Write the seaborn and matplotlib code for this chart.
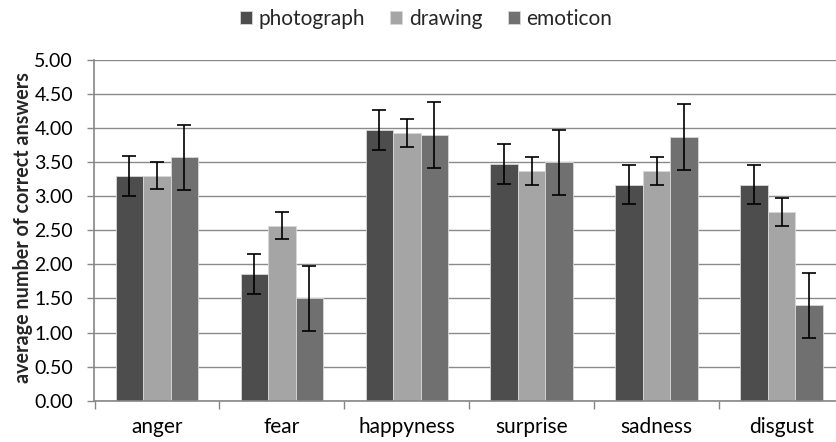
import matplotlib
matplotlib.use("Agg")
import matplotlib.pyplot as plt
import seaborn as sns
import pandas as pd
import numpy as np
from matplotlib.ticker import FixedLocator, FormatStrFormatter

categories = ["anger", "fear", "happyness", "surprise", "sadness", "disgust"]
series = ["photograph", "drawing", "emoticon"]
photograph = [3.30, 1.86, 3.97, 3.47, 3.17, 3.17]
drawing = [3.30, 2.57, 3.93, 3.37, 3.37, 2.77]
emoticon = [3.57, 1.50, 3.90, 3.50, 3.87, 1.40]
err_photograph = [0.29, 0.29, 0.29, 0.29, 0.29, 0.29]
err_drawing = [0.20, 0.20, 0.20, 0.20, 0.20, 0.20]
err_emoticon = [0.48, 0.48, 0.48, 0.48, 0.48, 0.48]
colors = ["#4d4d4d", "#a5a5a5", "#707070"]
yticks = [0.0, 0.5, 1.0, 1.5, 2.0, 2.5, 3.0, 3.5, 4.0, 4.5, 5.0]

values = {"photograph": photograph, "drawing": drawing, "emoticon": emoticon}
errors = {"photograph": err_photograph, "drawing": err_drawing, "emoticon": err_emoticon}
rows = []
for s in series:
    for c, v in zip(categories, values[s]):
        rows.append({"category": c, "series": s, "value": v})
df = pd.DataFrame(rows)

sns.set_style("white")
plt.rcParams["font.family"] = ["Lato", "DejaVu Sans"]

fig = plt.figure(figsize=(8.37, 4.42), dpi=100)
ax = fig.add_axes([94.5 / 837, 1 - 400.7 / 442, (844 - 94.5) / 837, (400.7 - 60) / 442])

sns.barplot(data=df, x="category", y="value", hue="series", order=categories,
            hue_order=series, palette=colors, width=0.66, errorbar=None,
            saturation=1, ax=ax, edgecolor="#d8d8d8", linewidth=0.6, zorder=2)

for cont, s in zip(ax.containers, series):
    xs = [p.get_x() + p.get_width() / 2 for p in cont.patches]
    ys = [p.get_height() for p in cont.patches]
    ax.errorbar(xs, ys, yerr=errors[s], fmt="none", ecolor="black",
                elinewidth=1.2, capsize=5, capthick=1.2, zorder=3)

ax.set_ylim(0, 5)
ax.set_xlim(-0.5, 5.5)
ax.set_yticks(yticks)
ax.yaxis.set_major_formatter(FormatStrFormatter("%.2f"))
ax.yaxis.grid(True, color="#8a8a8a", linewidth=1.0, zorder=0)
ax.set_axisbelow(True)

ax.xaxis.set_minor_locator(FixedLocator(np.arange(-0.5, 6.0, 1.0)))
ax.tick_params(axis="x", which="major", length=0, pad=12, labelsize=15, colors="black")
ax.tick_params(axis="x", which="minor", length=6, width=1, color="#868686", direction="out")
ax.tick_params(axis="y", which="major", length=5, width=1, color="#868686",
               direction="out", pad=10.5, labelsize=14, labelcolor="black")
ax.tick_params(axis="y", left=True)
ax.tick_params(axis="x", which="minor", bottom=True)

for side in ["top", "right"]:
    ax.spines[side].set_visible(False)
for side in ["left", "bottom"]:
    ax.spines[side].set_visible(True)
    ax.spines[side].set_color("#868686")
    ax.spines[side].set_linewidth(1.2)

ax.set_xlabel("")
ax.set_ylabel("")
fig.text(23 / 837, 1 - 228 / 442, "average number of correct answers", rotation=90,
         ha="center", va="center", fontsize=14.2, fontweight="bold")

handles, labels = ax.get_legend_handles_labels()
ax.legend_.remove()
fig.legend(handles, labels, loc="center", bbox_to_anchor=(426 / 837, 1 - 19 / 442),
           ncol=3, frameon=False, fontsize=15, handlelength=0.58, handleheight=0.58,
           handletextpad=0.33, columnspacing=1.2)

fig.savefig("out.png", dpi=100)
